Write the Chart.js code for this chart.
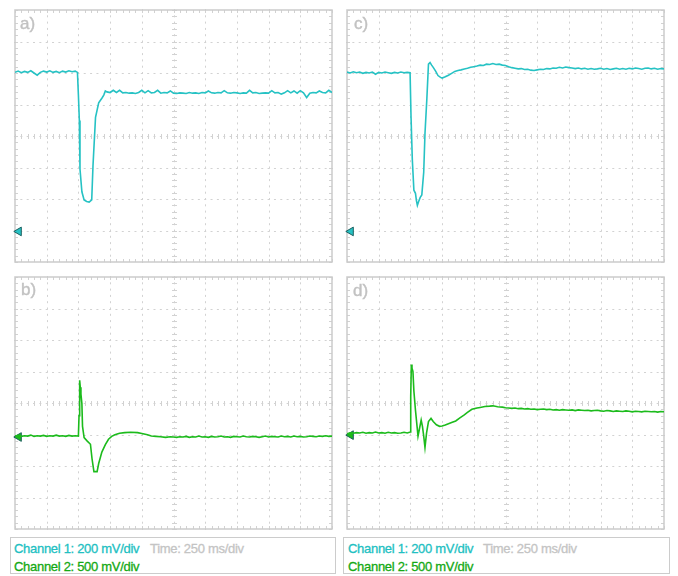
<!DOCTYPE html>
<html lang="en">
<head>
    <meta charset="UTF-8">
    <title>Oscilloscope traces</title>
    <style>
        body {
            margin: 0;
            background-color: #ffffff;
            font-family: 'Liberation Sans', Arial, sans-serif;
        }

        #page {
            position: relative;
            width: 678px;
            height: 576px;
        }

        /* Each scope screen is one canvas */
        .panel {
            position: absolute;
        }

        .tag {
            position: absolute;
            font-size: 17px;
            line-height: 18px;
            color: #c2c2c2;
            -webkit-text-stroke: 0.4px #c2c2c2;
        }

        .info {
            position: absolute;
            top: 537px;
            height: 37px;
            box-sizing: border-box;
            border: 1.5px solid #cccccc;
            font-size: 13px;
            letter-spacing: -0.3px;
        }

        .info span {
            position: absolute;
            white-space: nowrap;
            line-height: 16px;
            -webkit-text-stroke: 0.3px currentColor;
        }

        .ch1 { color: #22bfc2; }
        .ch2 { color: #14a914; }
        .time { color: #c4c4c4; }
    </style>
    <script src="https://cdn.jsdelivr.net/npm/chart.js"></script>
</head>
<body>
<div id="page">
    <canvas class="panel" id="chartA" width="329" height="264" style="left:9px; top:4px;"></canvas>
    <canvas class="panel" id="chartC" width="329" height="264" style="left:341px; top:4px;"></canvas>
    <canvas class="panel" id="chartB" width="329" height="264" style="left:9px; top:271px;"></canvas>
    <canvas class="panel" id="chartD" width="329" height="264" style="left:341px; top:271px;"></canvas>

    <div class="tag" style="left:20px; top:15px;">a)</div>
    <div class="tag" style="left:354px; top:15px;">c)</div>
    <div class="tag" style="left:21px; top:281px;">b)</div>
    <div class="tag" style="left:353px; top:282px;">d)</div>

    <div class="info" style="left:10px; width:326px;">
        <span class="ch1" style="left:3px; top:3px;">Channel 1: 200 mV/div</span>
        <span class="time" style="left:139px; top:3px;">Time: 250 ms/div</span>
        <span class="ch2" style="left:3px; top:21px;">Channel 2: 500 mV/div</span>
    </div>
    <div class="info" style="left:343px; width:327px;">
        <span class="ch1" style="left:4px; top:3px;">Channel 1: 200 mV/div</span>
        <span class="time" style="left:139px; top:3px;">Time: 250 ms/div</span>
        <span class="ch2" style="left:4px; top:21px;">Channel 2: 500 mV/div</span>
    </div>
</div>

<script>
    const traceA = [
        [0, 6.02], [0.1, 6.06], [0.2, 6.01], [0.3, 6.05], [0.4, 6.02], [0.5, 6.07], [0.6, 6.0], [0.7, 5.93],
        [0.8, 6.02], [0.9, 6.06], [1.0, 6.03], [1.1, 6.07], [1.2, 6.02], [1.3, 6.05], [1.4, 6.01], [1.5, 6.06],
        [1.6, 6.03], [1.7, 6.07], [1.8, 6.04], [1.9, 6.06], [1.97, 6.02],
        [2.0, 5.3], [2.03, 4.49], [2.05, 2.95], [2.11, 2.23], [2.18, 1.97], [2.26, 1.92], [2.34, 1.9],
        [2.42, 1.97], [2.46, 3.05], [2.54, 4.59], [2.64, 5.05], [2.74, 5.2], [2.8, 5.3], [2.85, 5.43],
        [2.9, 5.4], [3.0, 5.38], [3.1, 5.45], [3.2, 5.38], [3.3, 5.45], [3.4, 5.37], [3.5, 5.38], [3.6, 5.36],
        [3.7, 5.37], [3.8, 5.35], [3.9, 5.38], [4.0, 5.45], [4.1, 5.37], [4.2, 5.44], [4.3, 5.37], [4.4, 5.38],
        [4.5, 5.45], [4.6, 5.36], [4.7, 5.38], [4.8, 5.37], [4.9, 5.43], [5.0, 5.36], [5.1, 5.35], [5.2, 5.37],
        [5.3, 5.36], [5.4, 5.35], [5.5, 5.38], [5.6, 5.36], [5.7, 5.37], [5.8, 5.35], [5.9, 5.38], [6.0, 5.37],
        [6.1, 5.43], [6.2, 5.37], [6.3, 5.36], [6.4, 5.38], [6.5, 5.37], [6.6, 5.44], [6.7, 5.37], [6.8, 5.36],
        [6.9, 5.38], [7.0, 5.37], [7.1, 5.35], [7.2, 5.37], [7.3, 5.36], [7.4, 5.45], [7.5, 5.37], [7.6, 5.38],
        [7.7, 5.35], [7.8, 5.36], [7.9, 5.37], [8.0, 5.36], [8.1, 5.44], [8.2, 5.37], [8.3, 5.38], [8.4, 5.33],
        [8.5, 5.37], [8.6, 5.44], [8.7, 5.37], [8.8, 5.43], [8.9, 5.36], [9.0, 5.44], [9.1, 5.37], [9.2, 5.22],
        [9.3, 5.36], [9.4, 5.38], [9.5, 5.37], [9.6, 5.43], [9.7, 5.38], [9.8, 5.37], [9.9, 5.45], [10.0, 5.38]
    ];

    const traceC = [
        [0, 6.03], [0.1, 6.0], [0.2, 6.04], [0.3, 6.01], [0.4, 6.03], [0.5, 5.99], [0.6, 6.02], [0.7, 6.0],
        [0.8, 6.03], [0.9, 5.96], [1.0, 6.02], [1.1, 6.0], [1.2, 6.03], [1.3, 6.01], [1.4, 5.99], [1.5, 6.02],
        [1.6, 6.0], [1.7, 6.03], [1.8, 6.01], [1.9, 6.02], [1.99, 6.01],
        [2.02, 4.6], [2.06, 3.26], [2.11, 2.28], [2.16, 2.18], [2.19, 1.95], [2.22, 1.8], [2.26, 1.92],
        [2.31, 2.05], [2.36, 2.13], [2.42, 2.85], [2.46, 4.08], [2.52, 5.2], [2.57, 6.28], [2.62, 6.33],
        [2.67, 6.25], [2.72, 6.18], [2.8, 6.05], [2.87, 5.92], [2.95, 5.86],
        [3.0, 5.84], [3.1, 5.88], [3.2, 5.93], [3.3, 5.99], [3.4, 6.05], [3.5, 6.08], [3.6, 6.1], [3.7, 6.13],
        [3.8, 6.15], [3.9, 6.18], [4.0, 6.2], [4.1, 6.22], [4.2, 6.25], [4.3, 6.24], [4.4, 6.28], [4.5, 6.27],
        [4.6, 6.3], [4.7, 6.27], [4.8, 6.28], [4.9, 6.25], [5.0, 6.24], [5.1, 6.2], [5.2, 6.17], [5.3, 6.15],
        [5.4, 6.13], [5.5, 6.14], [5.6, 6.11], [5.7, 6.12], [5.8, 6.09], [5.9, 6.08], [6.0, 6.1], [6.1, 6.12],
        [6.2, 6.11], [6.3, 6.14], [6.4, 6.13], [6.5, 6.16], [6.6, 6.15], [6.7, 6.18], [6.8, 6.16], [6.9, 6.19],
        [7.0, 6.17], [7.1, 6.16], [7.2, 6.14], [7.3, 6.16], [7.4, 6.13], [7.5, 6.15], [7.6, 6.12], [7.7, 6.14],
        [7.8, 6.12], [7.9, 6.13], [8.0, 6.15], [8.1, 6.12], [8.2, 6.14], [8.3, 6.11], [8.4, 6.13], [8.5, 6.15],
        [8.6, 6.12], [8.7, 6.14], [8.8, 6.12], [8.9, 6.15], [9.0, 6.13], [9.1, 6.16], [9.2, 6.14], [9.3, 6.12],
        [9.4, 6.15], [9.5, 6.16], [9.6, 6.13], [9.7, 6.15], [9.8, 6.12], [9.9, 6.14], [10.0, 6.13]
    ];

    const traceB = [
        [0, 2.95], [0.1, 2.97], [0.2, 2.94], [0.3, 2.96], [0.4, 2.95], [0.5, 2.98], [0.6, 2.94], [0.7, 2.96],
        [0.8, 2.95], [0.9, 2.97], [1.0, 2.94], [1.1, 2.96], [1.2, 2.95], [1.3, 2.98], [1.4, 2.95], [1.5, 2.96],
        [1.6, 2.94], [1.7, 2.97], [1.8, 2.95], [1.9, 2.96], [2.0, 2.95],
        [2.02, 3.6], [2.04, 4.72], [2.06, 4.5], [2.08, 4.28], [2.11, 3.98], [2.13, 3.26], [2.18, 2.9],
        [2.28, 2.79], [2.38, 2.69], [2.43, 2.23], [2.49, 1.82], [2.59, 1.82], [2.64, 2.08], [2.74, 2.44],
        [2.85, 2.68], [2.95, 2.85], [3.05, 2.94], [3.15, 2.99], [3.3, 3.04], [3.46, 3.06], [3.65, 3.07],
        [3.87, 3.06], [4.0, 3.03], [4.18, 2.99], [4.3, 2.95], [4.45, 2.94], [4.59, 2.93], [4.75, 2.91], [4.9, 2.93],
        [5.0, 2.92], [5.1, 2.91], [5.2, 2.93], [5.3, 2.92], [5.4, 2.94], [5.5, 2.91], [5.6, 2.93], [5.7, 2.92],
        [5.8, 2.95], [5.9, 2.92], [6.0, 2.93], [6.1, 2.91], [6.2, 2.94], [6.3, 2.92], [6.4, 2.93], [6.5, 2.95],
        [6.6, 2.92], [6.7, 2.93], [6.8, 2.91], [6.9, 2.94], [7.0, 2.93], [7.1, 2.92], [7.2, 2.95], [7.3, 2.93],
        [7.4, 2.92], [7.5, 2.94], [7.6, 2.93], [7.7, 2.91], [7.8, 2.93], [7.9, 2.95], [8.0, 2.92], [8.1, 2.94],
        [8.2, 2.93], [8.3, 2.92], [8.4, 2.95], [8.5, 2.93], [8.6, 2.94], [8.7, 2.92], [8.8, 2.95], [8.9, 2.93],
        [9.0, 2.94], [9.1, 2.92], [9.2, 2.93], [9.3, 2.95], [9.4, 2.94], [9.5, 2.93], [9.6, 2.95], [9.7, 2.94],
        [9.8, 2.96], [9.9, 2.94], [10.0, 2.95]
    ];

    const traceD = [
        [0, 3.02], [0.1, 3.05], [0.2, 3.04], [0.3, 3.06], [0.4, 3.05], [0.5, 3.07], [0.6, 3.04], [0.7, 3.06],
        [0.8, 3.05], [0.9, 3.08], [1.0, 3.05], [1.1, 3.06], [1.2, 3.04], [1.3, 3.07], [1.4, 3.05], [1.5, 3.06],
        [1.6, 3.04], [1.7, 3.05], [1.8, 3.07], [1.9, 3.05], [2.0, 3.08],
        [2.01, 4.2], [2.03, 5.22], [2.05, 5.1], [2.08, 5.0], [2.11, 4.38], [2.16, 3.77], [2.21, 3.26],
        [2.24, 2.95], [2.28, 3.15], [2.34, 3.46], [2.38, 3.26], [2.42, 2.95], [2.46, 2.59], [2.51, 3.05],
        [2.57, 3.41], [2.65, 3.51], [2.72, 3.41], [2.82, 3.31], [2.92, 3.26], [3.0, 3.27], [3.1, 3.3],
        [3.2, 3.34], [3.3, 3.38], [3.43, 3.43], [3.55, 3.52], [3.7, 3.62], [3.8, 3.7], [3.94, 3.8], [4.1, 3.84],
        [4.2, 3.86], [4.35, 3.89], [4.5, 3.9], [4.6, 3.91], [4.75, 3.88], [4.9, 3.87],
        [5.0, 3.85], [5.1, 3.84], [5.2, 3.83], [5.3, 3.84], [5.4, 3.82], [5.5, 3.83], [5.6, 3.81], [5.7, 3.82],
        [5.8, 3.8], [5.9, 3.81], [6.0, 3.79], [6.1, 3.8], [6.2, 3.81], [6.3, 3.79], [6.4, 3.8], [6.5, 3.78],
        [6.6, 3.79], [6.7, 3.77], [6.8, 3.79], [6.9, 3.78], [7.0, 3.77], [7.1, 3.78], [7.2, 3.76], [7.3, 3.78],
        [7.4, 3.77], [7.5, 3.76], [7.6, 3.77], [7.7, 3.75], [7.8, 3.76], [7.9, 3.77], [8.0, 3.75], [8.1, 3.74],
        [8.2, 3.76], [8.3, 3.75], [8.4, 3.73], [8.5, 3.75], [8.6, 3.74], [8.7, 3.73], [8.8, 3.75], [8.9, 3.74],
        [9.0, 3.72], [9.1, 3.74], [9.2, 3.73], [9.3, 3.72], [9.4, 3.74], [9.5, 3.73], [9.6, 3.72], [9.7, 3.73],
        [9.8, 3.71], [9.9, 3.73], [10.0, 3.72]
    ];

    // ground reference markers (div) for panels a, c / b, d
    const ch1Ground = [0.97, 0.97];
    const ch2Ground = [2.92, 2.98];
    const markerTime = 0.12;

    const CH1 = '#26c2c4';
    const CH2 = '#1cbb1c';
    const GRID = '#d2d2d2';

    // scope graticule: dotted divisions, centre ticks, border ticks
    const graticule = {
        id: 'graticule',
        beforeDatasetsDraw(chart) {
            const { ctx, chartArea: a, scales: { x, y } } = chart;
            ctx.save();
            ctx.fillStyle = GRID;

            for (let i = 1; i < 10; i++) {
                const px = Math.round(x.getPixelForValue(i));
                for (let j = 0; j <= 40; j++) {
                    const py = y.getPixelForValue(j * 0.2);
                    ctx.fillRect(px, py - 1, 1, 2);
                }
            }
            for (let k = 1; k < 8; k++) {
                const py = Math.round(y.getPixelForValue(k));
                for (let j = 0; j <= 50; j++) {
                    const px = x.getPixelForValue(j * 0.2);
                    ctx.fillRect(px - 1, py, 2, 1);
                }
            }

            // centre axes ticks
            const cx = Math.round(x.getPixelForValue(5));
            const cy = Math.round(y.getPixelForValue(4));
            for (let j = 0; j <= 40; j++) {
                const py = Math.round(y.getPixelForValue(j * 0.2));
                ctx.fillRect(cx - 2, py, 5, 1);
                ctx.fillRect(a.left, py, 3, 1);
                ctx.fillRect(a.right - 3, py, 3, 1);
            }
            for (let j = 0; j <= 50; j++) {
                const px = Math.round(x.getPixelForValue(j * 0.2));
                ctx.fillRect(px, cy - 2, 1, 5);
                ctx.fillRect(px, a.top, 1, 3);
                ctx.fillRect(px, a.bottom - 3, 1, 3);
            }

            ctx.strokeStyle = '#cbcbcb';
            ctx.lineWidth = 1.5;
            ctx.strokeRect(a.left, a.top, a.width, a.height);
            ctx.restore();
        }
    };

    function makeScope(id, trace, color, ground) {
        const ctx = document.getElementById(id).getContext('2d');
        return new Chart(ctx, {
            type: 'line',
            data: {
                datasets: [{
                    data: trace.map(p => ({ x: p[0], y: p[1] })),
                    borderColor: color,
                    borderWidth: 1.6,
                    pointRadius: 0,
                    tension: 0
                }, {
                    data: [{ x: markerTime, y: ground }],
                    showLine: false,
                    pointStyle: 'triangle',
                    rotation: -90,
                    pointRadius: 5,
                    backgroundColor: color,
                    borderColor: '#1d5f5f',
                    borderWidth: 1,
                    clip: false
                }]
            },
            options: {
                responsive: false,
                animation: false,
                layout: { padding: 2 },
                plugins: {
                    legend: { display: false },
                    tooltip: { enabled: false }
                },
                scales: {
                    x: { type: 'linear', min: 0, max: 10, display: false },
                    y: { type: 'linear', min: 0, max: 8, display: false }
                }
            },
            plugins: [graticule]
        });
    }

    makeScope('chartA', traceA, CH1, ch1Ground[0]);
    makeScope('chartC', traceC, CH1, ch1Ground[1]);
    makeScope('chartB', traceB, CH2, ch2Ground[0]);
    makeScope('chartD', traceD, CH2, ch2Ground[1]);
</script>
</body>
</html>
